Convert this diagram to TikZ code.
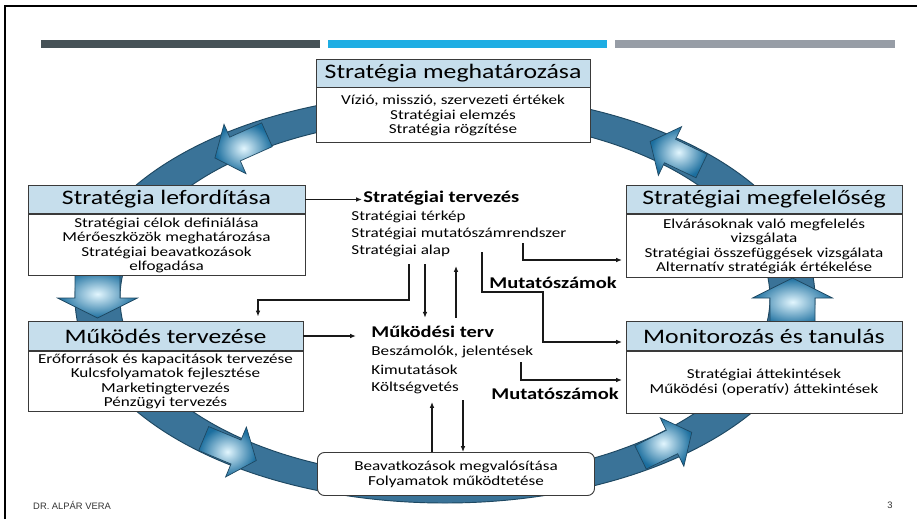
\documentclass[tikz,border=0pt]{standalone}
\usepackage{fontspec}
\setmainfont{Carlito}[FakeStretch=1.25]
\newfontfamily\footfont{Liberation Sans}
\usetikzlibrary{positioning, arrows.meta, shapes.geometric}

\definecolor{barDark}{HTML}{465257}
\definecolor{barBlue}{HTML}{1EADE3}
\definecolor{barGray}{HTML}{979DA6}
\definecolor{ringBlue}{HTML}{3A7398}
\definecolor{ringEdge}{HTML}{1E4862}
\definecolor{hdrBlue}{HTML}{C6DEEC}
\definecolor{boxLine}{HTML}{3A3A3A}
\definecolor{headLight}{HTML}{E2F6FE}
\definecolor{headDark}{HTML}{1B6E9E}

\begin{document}
\begin{tikzpicture}[x=0.03cm, y=-0.03cm, >={Latex[length=5pt,width=4pt]}]
        % Styles
        \tikzstyle{boxhead} = [rectangle, draw=boxLine, line width=0.8pt,
        fill=hdrBlue, minimum height=0.86cm, inner sep=0pt, text=black,
        font=\fontsize{17.6}{20}\selectfont]
        \tikzstyle{boxbody} = [rectangle, draw=boxLine, line width=0.8pt,
        fill=white, align=center, inner sep=1pt, text=black,
        font=\fontsize{11.7}{12.2}\selectfont]
        \tikzstyle{listitem} = [anchor=west, inner sep=1pt, text=black,
        font=\fontsize{11.7}{14}\selectfont]
        \tikzstyle{listhead} = [listitem, font=\bfseries\fontsize{14}{16}\selectfont]
        \tikzstyle{flow} = [line width=1.1pt, black!90]

        \useasboundingbox (0,0) rectangle (917,519);
        \fill[white] (0,0) rectangle (917,519);

        % Slide frame and bars
        \draw[line width=1.7pt] (5,519) -- (5,6) -- (917,6);
        \fill[barDark] (41,40) rectangle (320,48);
        \fill[barBlue] (328,40) rectangle (607,48);
        \fill[barGray] (615,40) rectangle (895,48);

        % Ring
        \fill[ringBlue, even odd rule]
          (445,298) ellipse [x radius=370, y radius=205]
          (445,298) ellipse [x radius=325, y radius=180];
        \draw[ringEdge, line width=0.8pt] (445,298) ellipse [x radius=370, y radius=205];
        \draw[ringEdge, line width=0.8pt] (445,298) ellipse [x radius=325, y radius=180];

        % Arrow heads on the ring
        \foreach \px/\py/\ang/\w/\h/\k/\l in {235/149/204/13/27/22/35,
            97.5/298/270/22.5/40/20/28, 236/452/-22.6/13/27/22/35,
            672/442/26/13/27/22/35, 792.5/298/90/22.5/40/20/28,
            670/151/154.5/13/27/22/35}
          \shade[shift={(\px,\py)}, rotate=\ang, inner color=headLight,
            outer color=headDark, draw=ringEdge, line width=0.6pt]
            (-\l,-\w) -- (0,-\w) -- (0,-\h) -- (\k,0) -- (0,\h) -- (0,\w)
            -- (-\l,\w) -- cycle;

        % Boxes
        \node (meghat) [boxhead, minimum width=8.22cm, minimum height=0.84cm] at (453,73)
        {Stratégia meghatározása};
        \node (meghatBody) [boxbody, minimum width=8.22cm, minimum height=1.65cm,
        below=0pt of meghat]
        {Vízió, misszió, szervezeti értékek \\ Stratégiai elemzés \\ Stratégia rögzítése};

        \node (lefordit) [boxhead, minimum width=8.31cm] at (166.5,199.5)
        {Stratégia lefordítása};
        \node (leforditBody) [boxbody, minimum width=8.31cm, minimum height=1.83cm,
        below=0pt of lefordit]
        {Stratégiai célok definiálása \\ Mérőeszközök meghatározása \\
        Stratégiai beavatkozások \\ elfogadása};

        \node (megfelel) [boxhead, minimum width=8.28cm] at (764,199.5)
        {Stratégiai megfelelőség};
        \node (megfelelBody) [boxbody, minimum width=8.28cm, minimum height=1.89cm,
        below=0pt of megfelel]
        {Elvárásoknak való megfelelés \\ vizsgálata \\
        Stratégiai összefüggések vizsgálata \\ Alternatív stratégiák értékelése};

        \node (mukodes) [boxhead, minimum width=8.25cm] at (165.5,336)
        {Működés tervezése};
        \node (mukodesBody) [boxbody, minimum width=8.25cm, minimum height=1.8cm,
        below=0pt of mukodes]
        {Erőforrások és kapacitások tervezése \\ Kulcsfolyamatok fejlesztése \\
        Marketingtervezés \\ Pénzügyi tervezés};

        \node (monitor) [boxhead, minimum width=8.28cm] at (764,336)
        {Monitorozás és tanulás};
        \node (monitorBody) [boxbody, minimum width=8.28cm, minimum height=1.86cm,
        below=0pt of monitor]
        {Stratégiai áttekintések \\ Működési (operatív) áttekintések};

        \node (impl) [boxbody, rounded corners=6pt, minimum width=8.31cm,
        minimum height=1.29cm, font=\fontsize{11.7}{12.8}\selectfont] at (456,474)
        {Beavatkozások megvalósítása \\ Folyamatok működtetése};

        % Middle lists
        \node (tervezes) [listhead] at (362,198) {Stratégiai tervezés};
        \node (terkep) [listitem] at (350,217) {Stratégiai térkép};
        \node (mutato) [listitem] at (350,234) {Stratégiai mutatószámrendszer};
        \node (alap) [listitem] at (350,251) {Stratégiai alap};

        \node (mukterv) [listhead] at (370,332) {Működési terv};
        \node (beszamolo) [listitem] at (370,352) {Beszámolók, jelentések};
        \node (kimutat) [listitem] at (370,370) {Kimutatások};
        \node (koltseg) [listitem] at (370,388) {Költségvetés};

        \node (mutszam1) [listhead, anchor=center] at (553,283) {Mutatószámok};
        \node (mutszam2) [listhead, anchor=center] at (555,394) {Mutatószámok};

        % Connector ends
        \coordinate (tA) at (409,264);
        \coordinate (bendA) at (258,300);
        \coordinate (tB) at (425,264);
        \coordinate (tC) at (456,266);
        \coordinate (tD) at (482,252);
        \coordinate (bendD) at (543,292);
        \coordinate (endD) at (543,342);
        \coordinate (tE) at (523,243);
        \coordinate (bendE) at (523,260);
        \coordinate (tF) at (521,362);
        \coordinate (bendF) at (521,380);
        \coordinate (tG) at (432,402);
        \coordinate (tH) at (463,400);

        % Arrows
        \draw[flow,->] (lefordit.east) -- (lefordit.east -| tervezes.west);
        \draw[flow,->,shorten >=12pt] (mukodes.east) -- (mukodes.east -| mukterv.west);
        \draw[flow,->,shorten >=4pt] (tA) |- (bendA) -- (bendA |- mukodes.north);
        \draw[flow,->,shorten >=6pt] (tB) -- (tB |- mukterv.north);
        \draw[flow,->,shorten <=6pt] (tC |- mukterv.north) -- (tC);
        \draw[flow,->,shorten >=3pt] (tD) |- (bendD) -- (endD) -- (endD -| monitor.west);
        \draw[flow,->,shorten >=3pt] (tE) -- (bendE) -- (bendE -| megfelelBody.west);
        \draw[flow,->,shorten >=3pt] (tF) -- (bendF) -- (bendF -| monitorBody.west);
        \draw[flow,->] (tG |- impl.north) -- (tG);
        \draw[flow,->] (tH) -- (tH |- impl.north);

        % Footer
        \node (author) [anchor=west, inner sep=0pt, text=black!80,
        font=\footfont\fontsize{8}{9}\selectfont] at (33,505) {DR. ALPÁR VERA};
        \node (pagenum) [inner sep=0pt, text=black!80,
        font=\footfont\fontsize{8}{9}\selectfont] at (890,505) {3};
\end{tikzpicture}
\end{document}
